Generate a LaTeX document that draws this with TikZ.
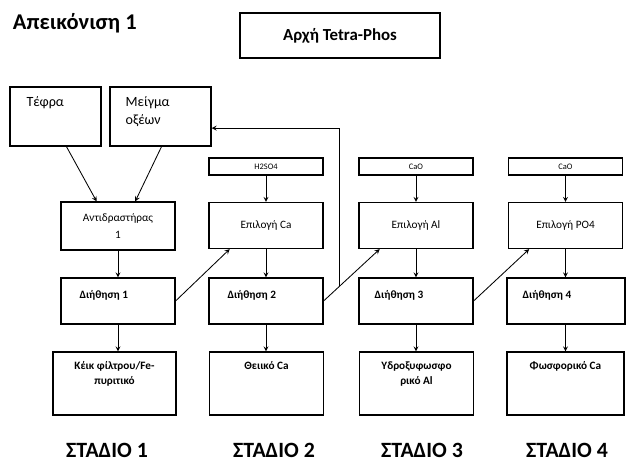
\documentclass[tikz,border=0pt]{standalone}
\usepackage{fontspec}
\setmainfont{Carlito}
\usetikzlibrary{positioning,calc}
\begin{document}
\begin{tikzpicture}[>=stealth, x=0.025cm, y=-0.025cm, font=\fontsize{8}{12.5}\selectfont]

\tikzstyle{box} = [draw, thick, minimum width=2.85cm, minimum height=1.15cm, align=center, inner sep=1pt]
\tikzstyle{reagent} = [draw, thick, minimum width=2.85cm, minimum height=0.425cm, inner sep=0pt, font=\fontsize{6}{7}\selectfont]
\tikzstyle{outbox} = [draw, thick, minimum width=2.85cm, minimum height=1.575cm]
\tikzstyle{toplabel} = [inner sep=0pt, align=left, font=\fontsize{10}{12.7}\selectfont]
\tikzstyle{filtlabel} = [inner sep=0pt, font=\fontsize{8}{10}\selectfont\bfseries]
\tikzstyle{outlabel} = [inner sep=0pt, align=center, font=\fontsize{8}{10.5}\selectfont\bfseries]
\tikzstyle{stage} = [inner sep=0pt, font=\fontsize{15.5}{18}\selectfont\bfseries]
\tikzstyle{flow} = [->, semithick]

\useasboundingbox (0,0) rectangle (627,463);

% --- Τίτλος
\node[anchor=west, font=\fontsize{16}{19}\selectfont\bfseries] (title) at (8,23) {Απεικόνιση 1};
\node[draw, thick, minimum width=5cm, minimum height=1.125cm, font=\fontsize{12}{14}\selectfont\bfseries] (principle) at (340,35.5) {Αρχή Tetra-Phos};

% --- Στάδιο 1
\node[draw, thick, minimum width=2.275cm, minimum height=1.475cm] (ash) at (55.5,116.5) {};
\node[draw, thick, minimum width=2.525cm, minimum height=1.475cm] (mix) at (160.5,116.5) {};
\node[toplabel, below right=0.25cm and 0.42cm of ash.north west] (ashtext) {Τέφρα};
\node[toplabel, below right=0.25cm and 0.4cm of mix.north west] (mixtext) {Μείγμα\\οξέων};

\node[box, minimum height=1.2cm] (reactor) at (118,226) {Αντιδραστήρας\\1};
\node[box] (filt1) at (118,301) {};
\node[filtlabel, right=0.47cm of filt1.west, yshift=0.15cm] (filt1text) {Διήθηση 1};
\node[outbox, minimum width=3.075cm] (out1) at (114.5,383.5) {};
\node[outlabel, below=0.25cm of out1.north] (out1text) {Κέικ φίλτρου/Fe-\\πυριτικό};

% --- Στάδιο 2
\node[reagent] (acid) at (266,166.5) {H2SO4};
\node[box] (sel2) at (266,225.5) {Επιλογή Ca};
\node[box] (filt2) at (266,301) {};
\node[filtlabel, right=0.47cm of filt2.west, yshift=0.15cm] (filt2text) {Διήθηση 2};
\node[outbox] (out2) at (266.5,383.5) {};
\node[outlabel, below=0.25cm of out2.north] (out2text) {Θειικό Ca};

% --- Στάδιο 3
\node[reagent] (lime3) at (416,166.5) {CaO};
\node[box] (sel3) at (416,225.5) {Επιλογή Al};
\node[box] (filt3) at (416,301) {};
\node[filtlabel, right=0.4cm of filt3.west, yshift=0.15cm] (filt3text) {Διήθηση 3};
\node[outbox] (out3) at (416.5,383.5) {};
\node[outlabel, below=0.25cm of out3.north] (out3text) {Υδροξυφωσφο\\ρικό Al};

% --- Στάδιο 4
\node[reagent] (lime4) at (565.5,166.5) {CaO};
\node[box] (sel4) at (565.5,225.5) {Επιλογή PO4};
\node[box, minimum width=2.95cm] (filt4) at (566,301) {};
\node[filtlabel, right=0.4cm of filt4.west, yshift=0.15cm] (filt4text) {Διήθηση 4};
\node[outbox, minimum width=2.925cm] (out4) at (565.5,383.5) {};
\node[outlabel, below=0.25cm of out4.north] (out4text) {Φωσφορικό Ca};

% ροή στάδιο 1
\draw[flow] (ash.-70) -- (reactor.131);
\draw[flow] (mix.-88) -- (reactor.55);
\draw[flow] (reactor) -- (filt1);
\draw[flow] (filt1.south) -- (filt1.south |- out1.north);

% ροή στάδια 2-4
\draw[flow] (acid) -- (sel2);
\draw[flow] (sel2) -- (filt2);
\draw[flow] (filt2.south) -- (filt2.south |- out2.north);
\draw[flow] (lime3) -- (sel3);
\draw[flow] (sel3) -- (filt3);
\draw[flow] (filt3.south) -- (filt3.south |- out3.north);
\draw[flow] (lime4) -- (sel4);
\draw[flow] (sel4.south) -- (sel4.south |- filt4.north);
\draw[flow] (sel4.south |- filt4.south) -- (sel4.south |- out4.north);

% διήθημα προς το επόμενο στάδιο
\draw[flow] (filt1.east) -- (sel2.213);
\draw[flow] (filt2.east) -- (sel3.213);
\draw[flow] (filt3.east) -- (sel4.213);

% ανακύκλωση οξέων
\coordinate (fb) at ($(filt2.east)!0.29!(sel3.213)$);
\draw[flow] (fb) |- ([yshift=-0.29cm]mix.east);

% --- Στάδια
\node[stage] (st1) at (107,450) {ΣΤΑΔΙΟ 1};
\node[stage] (st2) at (274,450) {ΣΤΑΔΙΟ 2};
\node[stage] (st3) at (422,450) {ΣΤΑΔΙΟ 3};
\node[stage] (st4) at (567,450) {ΣΤΑΔΙΟ 4};

\end{tikzpicture}
\end{document}
